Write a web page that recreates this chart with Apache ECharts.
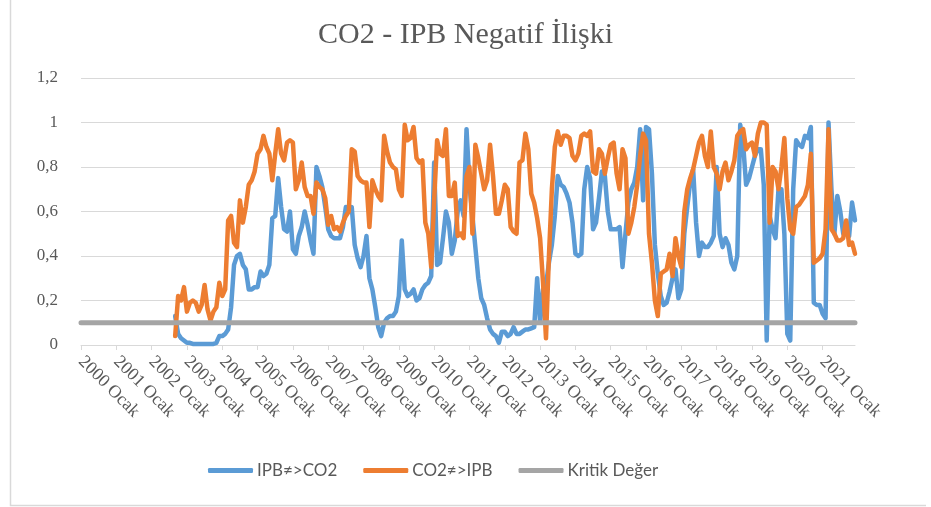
<!DOCTYPE html>
<html>
<head>
<meta charset="utf-8">
<script src="https://cdn.jsdelivr.net/npm/echarts@6/dist/echarts.min.js"></script>
<style>
html,body{margin:0;padding:0;background:#fff;}
#chart{width:931px;height:507px;}
</style>
</head>
<body>
<div id="chart"></div>
<script>
const years = [2000,2001,2002,2003,2004,2005,2006,2007,2008,2009,2010,2011,2012,2013,2014,2015,2016,2017,2018,2019,2020,2021];
const monthNames = ['Ocak','Şubat','Mart','Nisan','Mayıs','Haziran','Temmuz','Ağustos','Eylül','Ekim','Kasım','Aralık'];
const dataStart = '2002 Eylül';
const kritikDeger = 0.1;

// IPB≠>CO2 (from 2002 Eylül onward)
const ipbToCo2 = [
  0.13,0.05,0.03,0.02,
  0.01,0.01,0.005,0.005,0.005,0.005,0.005,0.005,0.005,0.005,0.01,0.04,
  0.04,0.05,0.07,0.17,0.36,0.40,0.41,0.36,0.34,0.25,0.25,0.26,
  0.26,0.33,0.31,0.32,0.36,0.57,0.58,0.75,0.62,0.52,0.51,0.60,
  0.43,0.41,0.49,0.53,0.60,0.54,0.47,0.41,0.80,0.76,0.71,0.62,
  0.52,0.49,0.48,0.48,0.48,0.53,0.62,0.60,0.62,0.45,0.39,0.35,
  0.40,0.49,0.30,0.25,0.17,0.08,0.04,0.10,0.12,0.13,0.13,0.15,
  0.22,0.47,0.25,0.22,0.23,0.25,0.20,0.21,0.25,0.27,0.28,0.31,
  0.82,0.36,0.37,0.48,0.60,0.55,0.41,0.47,0.60,0.65,0.58,0.97,
  0.72,0.58,0.44,0.30,0.21,0.18,0.12,0.07,0.05,0.04,0.01,0.06,
  0.06,0.04,0.05,0.08,0.05,0.05,0.06,0.07,0.07,0.075,0.08,0.30,
  0.10,0.25,0.27,0.37,0.45,0.58,0.76,0.72,0.71,0.68,0.64,0.55,
  0.41,0.40,0.41,0.70,0.80,0.75,0.52,0.55,0.66,0.78,0.76,0.60,
  0.52,0.52,0.52,0.53,0.35,0.50,0.64,0.70,0.73,0.80,0.97,0.65,
  0.98,0.97,0.77,0.45,0.32,0.22,0.18,0.19,0.24,0.30,0.34,0.21,
  0.25,0.50,0.62,0.73,0.79,0.55,0.40,0.46,0.44,0.44,0.46,0.49,
  0.80,0.50,0.44,0.48,0.45,0.37,0.34,0.40,0.99,0.90,0.72,0.75,
  0.80,0.85,0.88,0.88,0.72,0.02,0.58,0.52,0.48,0.70,0.70,0.50,
  0.05,0.02,0.70,0.92,0.90,0.89,0.94,0.93,0.98,0.19,0.18,0.18,
  0.14,0.12,1.00,0.70,0.50,0.67,0.60,0.50,0.52,0.49,0.64,0.56
];

// CO2≠>IPB (from 2002 Eylül onward)
const co2ToIpb = [
  0.04,0.22,0.20,0.26,
  0.15,0.19,0.20,0.19,0.15,0.18,0.27,0.16,0.11,0.15,0.17,0.28,
  0.22,0.25,0.56,0.58,0.46,0.44,0.65,0.55,0.62,0.72,0.74,0.78,
  0.86,0.88,0.94,0.89,0.86,0.74,0.86,0.97,0.86,0.83,0.91,0.92,
  0.91,0.70,0.74,0.82,0.71,0.67,0.67,0.59,0.73,0.71,0.70,0.66,
  0.54,0.58,0.52,0.53,0.51,0.55,0.58,0.60,0.88,0.87,0.76,0.74,
  0.73,0.73,0.53,0.74,0.70,0.67,0.65,0.94,0.87,0.82,0.80,0.79,
  0.70,0.67,0.99,0.92,0.93,0.98,0.84,0.82,0.83,0.55,0.50,0.35,
  0.65,0.92,0.86,0.85,0.97,0.67,0.67,0.73,0.49,0.50,0.48,0.76,
  0.80,0.50,0.90,0.84,0.77,0.70,0.74,0.90,0.76,0.59,0.59,0.65,
  0.72,0.70,0.53,0.51,0.50,0.82,0.83,0.95,0.88,0.68,0.64,0.57,
  0.48,0.28,0.03,0.40,0.70,0.89,0.96,0.90,0.94,0.94,0.93,0.85,
  0.83,0.86,0.94,0.95,0.94,0.96,0.78,0.77,0.88,0.86,0.77,0.84,
  0.90,0.91,0.77,0.70,0.88,0.84,0.50,0.55,0.62,0.72,0.85,0.95,
  0.92,0.50,0.37,0.20,0.13,0.32,0.33,0.34,0.41,0.31,0.48,0.40,
  0.35,0.60,0.70,0.75,0.79,0.85,0.91,0.94,0.85,0.80,0.96,0.80,
  0.77,0.70,0.78,0.82,0.74,0.78,0.83,0.94,0.96,0.97,0.88,0.90,
  0.91,0.85,0.95,1.00,1.00,0.99,0.55,0.80,0.78,0.70,0.80,0.93,
  0.66,0.52,0.50,0.62,0.63,0.65,0.67,0.72,0.86,0.37,0.38,0.39,
  0.41,0.52,0.97,0.52,0.50,0.47,0.47,0.48,0.56,0.45,0.46,0.41
];

const yTicks = [0, 0.2, 0.4, 0.6, 0.8, 1, 1.2];

const categories = [];
years.forEach(y => monthNames.forEach(m => categories.push(y + ' ' + m)));
const startIdx = categories.indexOf(dataStart);
function pad(arr){ return categories.map((c, i) => (i >= startIdx && i - startIdx < arr.length) ? arr[i - startIdx] : null); }

const chart = echarts.init(document.getElementById('chart'), null, {renderer:'canvas'});
const textColor = '#595959';
const serif = '"Liberation Serif","Times New Roman",serif';
const sans = 'Lato,"Noto Sans",sans-serif';

chart.setOption({
  animation:false,
  backgroundColor:'#ffffff',
  title:{
    text:'CO2 - IPB Negatif İlişki',
    left:'center', top:15,
    textStyle:{fontFamily:serif, fontSize:30, fontWeight:'normal', color:textColor}
  },
  legend:{
    top:457, left:203,
    itemWidth:45, itemHeight:5, itemGap:26,
    icon:'roundRect',
    textStyle:{fontFamily:sans, fontSize:17, color:textColor, padding:[0,0,0,-1]},
    data:['IPB≠>CO2','CO2≠>IPB','Kritik Değer']
  },
  graphic:[{
    type:'polyline', silent:true,
    shape:{points:[[10.5,0],[10.5,505.5],[926,505.5]]},
    style:{stroke:'#d9d9d9', lineWidth:1.5, fill:null}
  }],
  grid:{left:81, right:76, top:78, bottom:162, containLabel:false},
  xAxis:{
    type:'category', boundaryGap:false, data:categories,
    axisLine:{lineStyle:{color:'#d9d9d9', width:1}},
    axisTick:{show:true, interval:11, length:5, lineStyle:{color:'#d9d9d9'}},
    axisLabel:{interval:11, rotate:-45, margin:14, fontFamily:serif, fontSize:18, color:textColor},
    splitLine:{show:false}
  },
  yAxis:{
    type:'value', min:yTicks[0], max:yTicks[yTicks.length-1], interval:0.2,
    axisLine:{show:false}, axisTick:{show:false},
    axisLabel:{margin:23, fontFamily:serif, fontSize:17, color:textColor,
      formatter:v => (Math.round(v*10)/10).toString().replace('.', ',')},
    splitLine:{lineStyle:{color:'#d9d9d9', width:1}}
  },
  series:[
    {name:'IPB≠>CO2', type:'line', data:pad(ipbToCo2), showSymbol:false, symbol:'none',
     lineStyle:{width:4.5, color:'#5B9BD5', cap:'round', join:'round'}, itemStyle:{color:'#5B9BD5'}},
    {name:'CO2≠>IPB', type:'line', data:pad(co2ToIpb), showSymbol:false, symbol:'none',
     lineStyle:{width:4.5, color:'#ED7D31', cap:'round', join:'round'}, itemStyle:{color:'#ED7D31'}},
    {name:'Kritik Değer', type:'line', data:categories.map(() => kritikDeger), showSymbol:false, symbol:'none',
     lineStyle:{width:5, color:'#A5A5A5', cap:'round'}, itemStyle:{color:'#A5A5A5'}}
  ]
});
</script>
</body>
</html>
